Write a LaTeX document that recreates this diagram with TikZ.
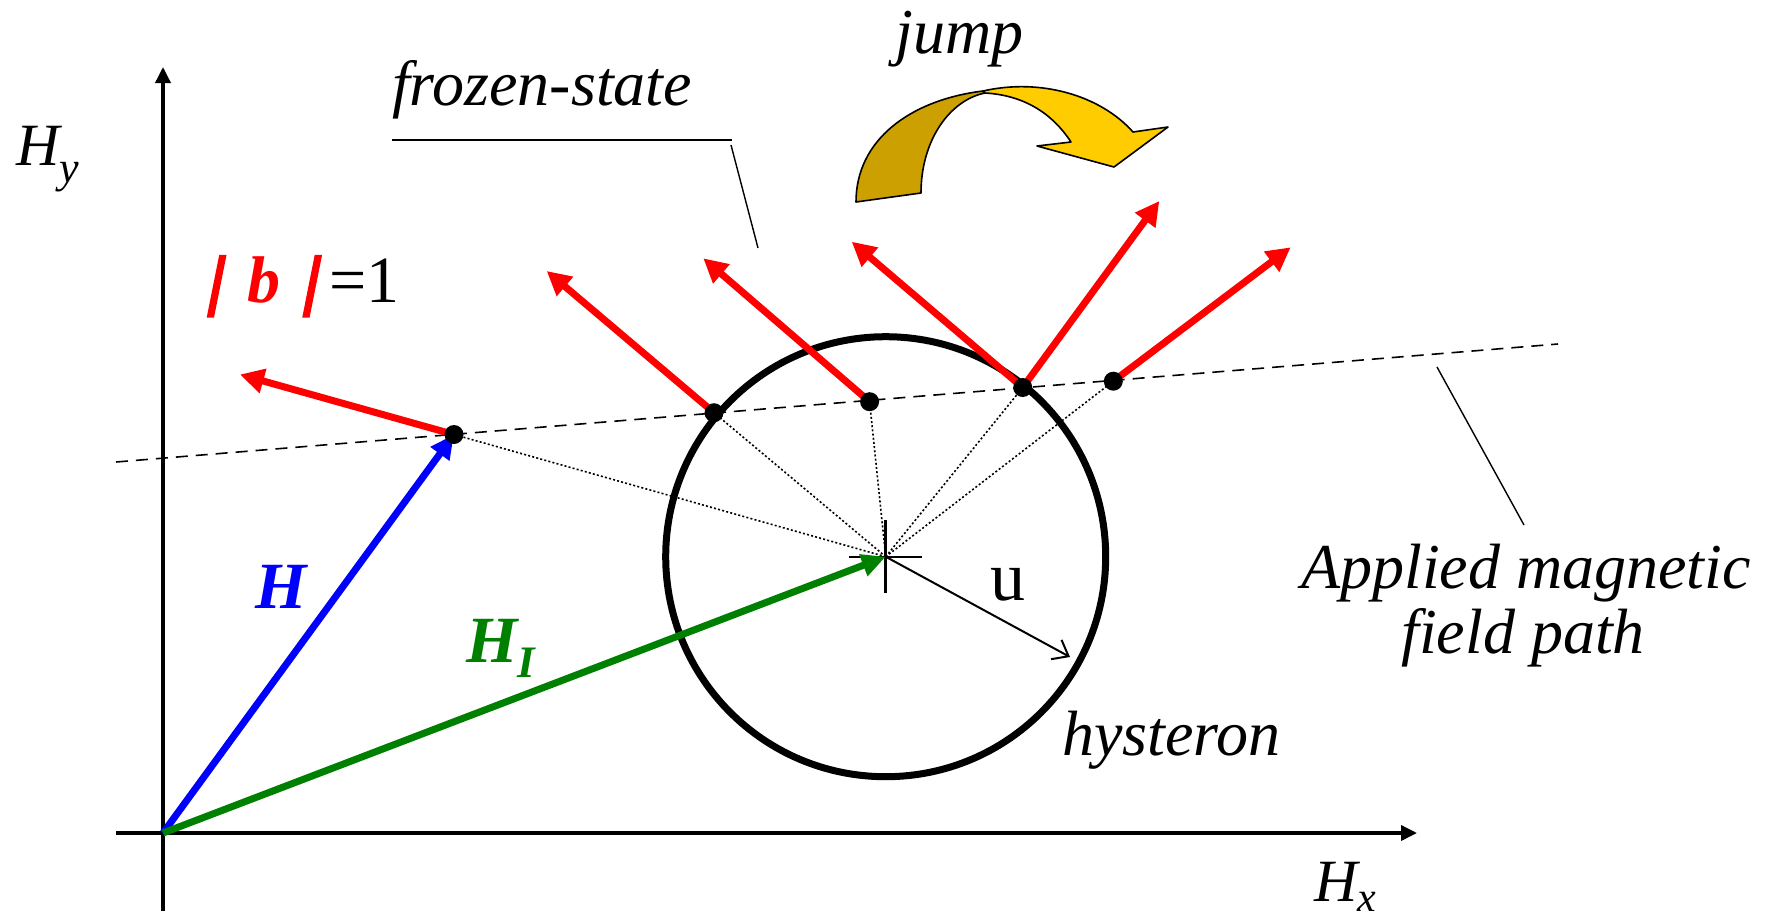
\documentclass[tikz,border=0pt]{standalone}
\usepackage{fontspec}
\setmainfont{Liberation Serif}
\newfontfamily\barfont[FakeSlant=0.2,FakeBold=4]{Liberation Serif}
\usetikzlibrary{arrows.meta}
\definecolor{jdark}{RGB}{204,160,0}
\definecolor{jlight}{RGB}{255,204,0}
\definecolor{hgreen}{RGB}{0,128,0}
\begin{document}
\begin{tikzpicture}[x=1pt,y=-1pt,
  lbl/.style={inner sep=0pt, anchor=base west},
  itbig/.style={font=\fontsize{64}{70}\selectfont\itshape},
  dotnode/.style={circle, fill=black, inner sep=0pt, minimum size=19pt},
  axisline/.style={line width=3.5pt, -{Triangle[length=16pt,width=15pt]}},
  bvec/.style={line width=7pt, red, -{Triangle[length=24pt,width=24pt]}},
  hvec/.style={line width=7pt, -{Triangle[length=24pt,width=22pt]}},
  leader/.style={line width=1.4pt},
  radial/.style={line width=1.6pt, dash pattern=on 2pt off 2.2pt},
  pathline/.style={line width=1.6pt, dash pattern=on 12pt off 8pt},
  jumpshape/.style={draw=black, line width=1.6pt, line join=round}
]
\useasboundingbox (0,0) rectangle (1767,919);

% key points
\coordinate (O) at (163,833);
\coordinate (C) at (885.7,556.7);
\coordinate (pathA) at (116,462);
\coordinate (pathB) at (1558,344);
\coordinate (yb) at (163,911);
\coordinate (yt) at (163,67);
\coordinate (xl) at (116,833);
\coordinate (xr) at (1417,833);

% axes
\draw[axisline] (yb) -- (yt);
\draw[axisline] (xl) -- (xr);

% hysteron circle
\draw[line width=7pt] (C) circle[radius=220];

% applied field path
\draw[pathline] (pathA) -- (pathB);

% dots (positions)
\coordinate (p1) at (454,434.5);
\coordinate (p2) at (714,412.7);
\coordinate (p3) at (869.6,401.7);
\coordinate (p4) at (1022.7,387.5);
\coordinate (p5) at (1113.3,381.2);

% radial dotted lines
\foreach \p in {p1,p2,p3,p4,p5} \draw[radial] (C) -- (\p);

% cross at centre
\coordinate (cv1) at (885.7,520);
\coordinate (cv2) at (885.7,593);
\coordinate (ch1) at (849,556.7);
\coordinate (ch2) at (922,556.7);
\draw[line width=3pt] (cv1) -- (cv2);
\draw[line width=2pt] (ch1) -- (ch2);

% radius u
\coordinate (ut) at (1070,657);
\draw[line width=2pt, -{Straight Barb[length=14pt,width=22pt,line width=2pt]}] (C) -- (ut);
\node[lbl, font=\fontsize{70}{70}\selectfont] (ulabel) at (990,600) {u};

% field vectors
\draw[hvec, blue] (O) -- (p1);
\draw[hvec, hgreen] (O) -- (C);

% b vectors
\coordinate (t1) at (240,374.5);
\coordinate (t2) at (546.7,271);
\coordinate (t3) at (703.3,258.3);
\coordinate (t4a) at (851.7,241.7);
\coordinate (t4b) at (1159.3,201);
\coordinate (t5) at (1290.7,247.3);
\draw[bvec] (p1) -- (t1);
\draw[bvec] (p2) -- (t2);
\draw[bvec] (p3) -- (t3);
\draw[bvec] (p4) -- (t4a);
\draw[bvec] (p4) -- (t4b);
\draw[bvec] (p5) -- (t5);

% dots on top
\node[dotnode] (d1) at (p1) {};
\node[dotnode] (d2) at (p2) {};
\node[dotnode] (d3) at (p3) {};
\node[dotnode] (d4) at (p4) {};
\node[dotnode] (d5) at (p5) {};

% jump arrow
\filldraw[jumpshape, fill=jdark] (856,202) .. controls (856,140) and (910,100) .. (983,91)
  .. controls (983,92) and (984,92) .. (985,93)
  .. controls (950,100) and (921,140) .. (921,193) -- cycle;
\filldraw[jumpshape, fill=jlight] (983,91) .. controls (1040,78) and (1100,95) .. (1133,132)
  -- (1168,127) -- (1114,167) -- (1037,146) -- (1071,142)
  .. controls (1050,110) and (1020,95) .. (985,93) -- cycle;

% leader lines
\coordinate (fz1) at (392,140);
\coordinate (fz2) at (732,140);
\coordinate (fz3) at (731,145);
\coordinate (fz4) at (758,248);
\draw[leader] (fz1) -- (fz2);
\draw[leader] (fz3) -- (fz4);
\coordinate (ap1) at (1437,367);
\coordinate (ap2) at (1524,525);
\draw[leader] (ap1) -- (ap2);

% labels
\node[lbl, font=\fontsize{60}{60}\selectfont\itshape] (hy) at (16,165)
  {H\raisebox{-17pt}{\fontsize{44}{44}\selectfont y}};
\node[lbl, font=\fontsize{60}{60}\selectfont\itshape] (hx) at (1314,901)
  {H\raisebox{-10pt}{\fontsize{42}{42}\selectfont x}};
\node[lbl, font=\fontsize{66}{66}\selectfont] (bnorm) at (206,302)
  {\textcolor{red}{{\barfont\bfseries|}\hspace{27pt}{\bfseries\itshape b}\hspace{21pt}{\barfont\bfseries|}}\hspace{13pt}=1};
\node[lbl, blue, font=\fontsize{66}{66}\selectfont\bfseries\itshape] (hlabel) at (255,608) {H};
\node[lbl, hgreen, font=\fontsize{66}{66}\selectfont\bfseries\itshape] (hilabel) at (466,662)
  {H\raisebox{-15pt}{\fontsize{45}{45}\selectfont I}};
\node[lbl, itbig] (frozen) at (392,105) {frozen-state};
\node[lbl, itbig] (jump) at (895,53) {jump};
\node[lbl, itbig] (hyst) at (1062,755) {hysteron};
\node[itbig, inner sep=0pt, anchor=base] (app1) at (1526,588) {Applied magnetic};
\node[itbig, inner sep=0pt, anchor=base] (app2) at (1523,653) {field path};
\end{tikzpicture}
\end{document}
